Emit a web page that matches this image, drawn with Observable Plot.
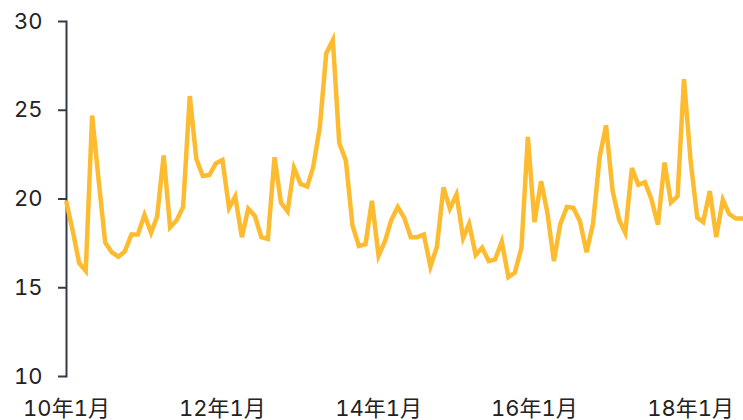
<!DOCTYPE html>
<html>
<head>
<meta charset="utf-8">
<script src="https://cdn.jsdelivr.net/npm/d3@7"></script>
<script src="https://cdn.jsdelivr.net/npm/@observablehq/plot@0.6"></script>
<style>
  html, body { margin: 0; padding: 0; background: #fff; }
  #chart svg { display: block; }
</style>
</head>
<body>
<div id="chart"></div>
<script>
// Monthly series starting 2010-01
const startYear = 2010;
const startMonth = 0;
const values = [
  19.8, 18.1, 16.4, 15.95, 24.7, 21.0, 17.55, 17.0, 16.75, 17.05, 18.0, 18.0,
  19.1, 18.1, 19.0, 22.45, 18.4, 18.8, 19.55, 25.8, 22.25, 21.3, 21.35, 22.0,
  22.2, 19.5, 20.15, 17.85, 19.45, 19.05, 17.85, 17.75, 22.35, 19.8, 19.3, 21.75,
  20.85, 20.7, 21.8, 24.05, 28.2, 28.95, 23.15, 22.15, 18.5, 17.35, 17.45, 19.9,
  16.8, 17.65, 18.8, 19.55, 18.95, 17.85, 17.85, 18.0, 16.2, 17.3, 20.65, 19.45,
  20.25, 17.8, 18.6, 16.85, 17.25, 16.5, 16.6, 17.6, 15.6, 15.85, 17.25, 23.5,
  18.7, 21.0, 19.25, 16.5, 18.6, 19.55, 19.5, 18.75, 17.0, 18.6, 22.35, 24.15,
  20.45, 18.8, 18.1, 21.75, 20.8, 20.95, 20.0, 18.55, 22.05, 19.8, 20.15, 26.75,
  22.15, 18.95, 18.7, 20.45, 17.85, 19.95, 19.15, 18.9, 18.9
];
const xTickYears = [2010, 2012, 2014, 2016, 2018];
const yTicks = [10, 15, 20, 25, 30];

const start = new Date(Date.UTC(startYear, startMonth, 1));
const data = values.map((v, i) => ({date: d3.utcMonth.offset(start, i), value: v}));
const xTicks = xTickYears.map(y => new Date(Date.UTC(y, 0, 1)));
const fmt = d => `${String(d.getUTCFullYear()).slice(2)}年${d.getUTCMonth() + 1}月`;

const chart = Plot.plot({
  width: 743,
  height: 420,
  marginLeft: 66,
  marginRight: 1,
  marginTop: 21,
  marginBottom: 44,
  style: {fontFamily: "Inter, 'Noto Sans CJK JP', sans-serif", fontSize: "22px", color: "#222", background: "#fff"},
  x: {type: "utc", domain: [data[0].date, data[data.length - 1].date]},
  y: {domain: [10, 30]},
  marks: [
    Plot.axisY({ticks: yTicks, tickSize: 8, tickPadding: 16, tickFormat: d => String(d), label: null, stroke: "#333a48", strokeWidth: 2, fontSize: 22, fill: "#222"}),
    Plot.axisX({ticks: xTicks, tickSize: 0, tickPadding: 24, tickFormat: fmt, label: null, fontSize: 22, fill: "#222"}),
    Plot.frame({anchor: "left", stroke: "#333a48", strokeWidth: 2}),
    Plot.line(data, {x: "date", y: "value", stroke: "#fdbb2f", strokeWidth: 4.5, strokeLinejoin: "miter", strokeMiterlimit: 4})
  ]
});
document.getElementById("chart").appendChild(chart);
</script>
</body>
</html>
